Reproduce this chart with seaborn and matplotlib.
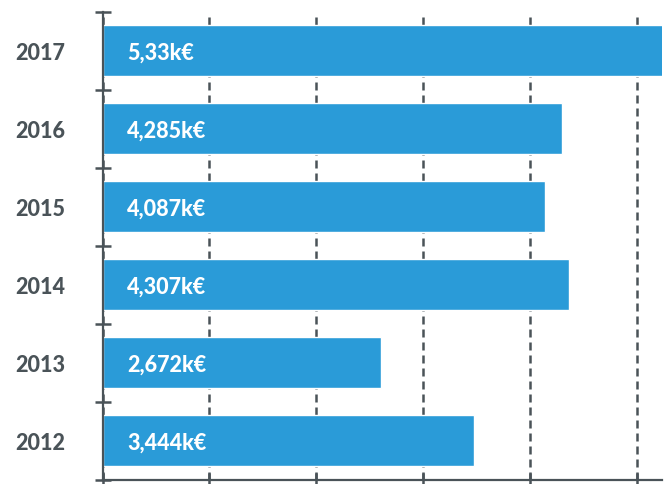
import numpy as np
import pandas as pd
import matplotlib
matplotlib.use('Agg')
import matplotlib.pyplot as plt
import seaborn as sns

# Дані з графіка
years = ['2017', '2016', '2015', '2014', '2013', '2012']
# довжини стовпців (тис. €)
bar_values = [5.33, 4.30, 4.14, 4.36, 2.605, 3.475]
# підписи, як надруковано на стовпцях
labels = ['5,33k€', '4,285k€', '4,087k€', '4,307k€', '2,672k€', '3,444k€']

bar_color = '#2a9bd8'
dark = '#4a5358'

sns.set_style('white')
plt.rcParams['font.family'] = ['Lato', 'DejaVu Sans']

df = pd.DataFrame({'year': years, 'value': bar_values})

fig = plt.figure(figsize=(6.68, 4.85), dpi=100)
ax = fig.add_axes([102.5 / 668, 4.5 / 485, 559.5 / 668, 468 / 485])

sns.barplot(data=df, x='value', y='year', order=years, color=bar_color,
            saturation=1, width=0.66, ax=ax, zorder=3)

# підписи значень всередині стовпців
for i, lab in enumerate(labels):
    ax.annotate(lab, xy=(0, i), xytext=(17.6, -1), textcoords='offset points',
                va='center', ha='left', color='white', fontsize=15.5,
                fontweight='black', zorder=4)

ax.set_xlim(0, 559.5 / 106.9)
ax.set_ylim(5.5, -0.5)
ax.set_xlabel('')
ax.set_ylabel('')

# пунктирна сітка
ax.set_xticks(np.arange(0, 6, 1))
ax.set_xticklabels([])
ax.xaxis.grid(True, color=dark, linewidth=1.8, linestyle=(0, (3.2, 2.0)), zorder=1)
ax.yaxis.grid(False)
ax.set_axisbelow(True)

# позначки між категоріями
ax.set_yticks(np.arange(-0.5, 6, 1), minor=True)
ax.tick_params(axis='y', which='minor', direction='inout', length=11.5,
               width=1.8, color=dark, left=True)
ax.tick_params(axis='y', which='major', length=0, pad=27, labelsize=15.5,
               labelcolor=dark)
for t in ax.get_yticklabels():
    t.set_fontweight('black')
ax.tick_params(axis='x', which='major', direction='inout', length=10,
               width=1.8, color=dark, bottom=True)

for s in ['top', 'right']:
    ax.spines[s].set_visible(False)
for s in ['left', 'bottom']:
    ax.spines[s].set_color(dark)
    ax.spines[s].set_linewidth(1.6)
    ax.spines[s].set_zorder(5)

fig.savefig('out.png', dpi=100)
